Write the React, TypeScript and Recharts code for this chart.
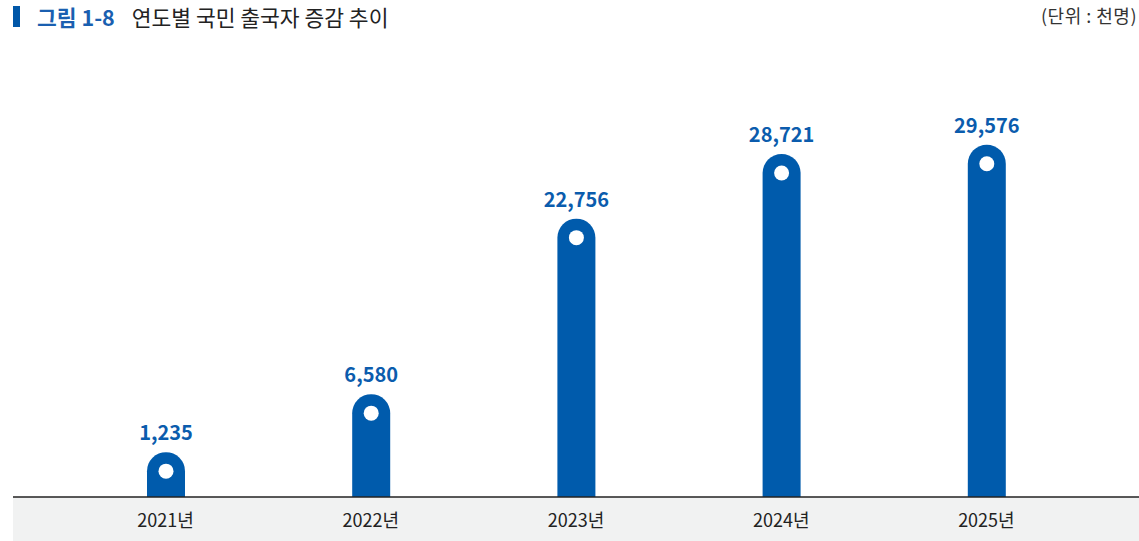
import { BarChart, Bar, XAxis, YAxis, LabelList } from "recharts";

// 연도별 국민 출국자 (단위: 천명)
const YEARS = ["2021년", "2022년", "2023년", "2024년", "2025년"];
const DEPARTURES = [1235, 6580, 22756, 28721, 29576];

// 막대 아래쪽이 0보다 조금 아래에서 시작하도록 보이는 하한값
const BAR_FLOOR = -2900;
const Y_MAX = 36000;

const BLUE = "#005bac";
const LABEL_BLUE = "#0b5cad";
const FONT = '"Noto Sans CJK KR", "Noto Sans", sans-serif';

const data = YEARS.map((year, i) => ({
  year,
  value: DEPARTURES[i],
  range: [BAR_FLOOR, DEPARTURES[i]],
}));

// 둥근 머리 막대 + 흰 점
function PinBar(props: any) {
  const { x, y, width, height } = props;
  if (width == null || height == null || height <= 0) return null;
  const r = width / 2;
  const bottom = y + height;
  const d = `M${x},${bottom} L${x},${y + r} A${r},${r} 0 0 1 ${x + width},${y + r} L${x + width},${bottom} Z`;
  return (
    <g>
      <path d={d} fill={BLUE} />
      <circle cx={x + r} cy={y + r} r={7.5} fill="#fff" />
    </g>
  );
}

export default function App() {
  return (
    <div
      style={{
        position: "absolute",
        left: 0,
        top: 0,
        width: 1139,
        height: 541,
        background: "#fff",
        fontFamily: FONT,
        overflow: "hidden",
      }}
    >
      {/* 제목 */}
      <div style={{ position: "absolute", left: 13, top: 6, width: 7, height: 21, background: "#0057a8" }} />
      <div
        style={{
          position: "absolute",
          left: 37,
          top: 6,
          fontSize: 21.5,
          lineHeight: "21px",
          whiteSpace: "nowrap",
          color: "#222",
        }}
      >
        <span style={{ color: "#1a5fb0", fontWeight: 700 }}>그림 1-8</span>
        <span style={{ marginLeft: 17 }}>연도별 국민 출국자 증감 추이</span>
      </div>
      <div
        style={{
          position: "absolute",
          right: 2,
          top: 6,
          fontSize: 18,
          lineHeight: "18px",
          color: "#333",
          whiteSpace: "nowrap",
          letterSpacing: 0.5,
        }}
      >
        (단위 : 천명)
      </div>

      {/* x축 회색 띠 */}
      <div style={{ position: "absolute", left: 13, top: 497, width: 1126, height: 44, background: "#f1f2f2" }} />

      <div style={{ position: "absolute", left: 0, top: 0 }}>
        <BarChart width={1139} height={541} data={data} margin={{ top: 75, right: 0, bottom: 0, left: 13 }}>
          <XAxis
            dataKey="year"
            height={44}
            padding={{ left: 50, right: 50 }}
            axisLine={{ stroke: "#222", strokeWidth: 1.5 }}
            tickLine={false}
            tickMargin={11}
            tick={{ fontSize: 18, fill: "#222", fontFamily: FONT }}
          />
          <YAxis hide domain={[BAR_FLOOR, Y_MAX]} allowDataOverflow />
          <Bar dataKey="range" barSize={38} shape={<PinBar />} isAnimationActive={false}>
            <LabelList
              dataKey="value"
              position="top"
              offset={12}
              formatter={(v: any) => Number(v).toLocaleString("en-US")}
              style={{ fontSize: 20, fontWeight: 700, fill: LABEL_BLUE, fontFamily: FONT }}
            />
          </Bar>
        </BarChart>
      </div>
    </div>
  );
}
